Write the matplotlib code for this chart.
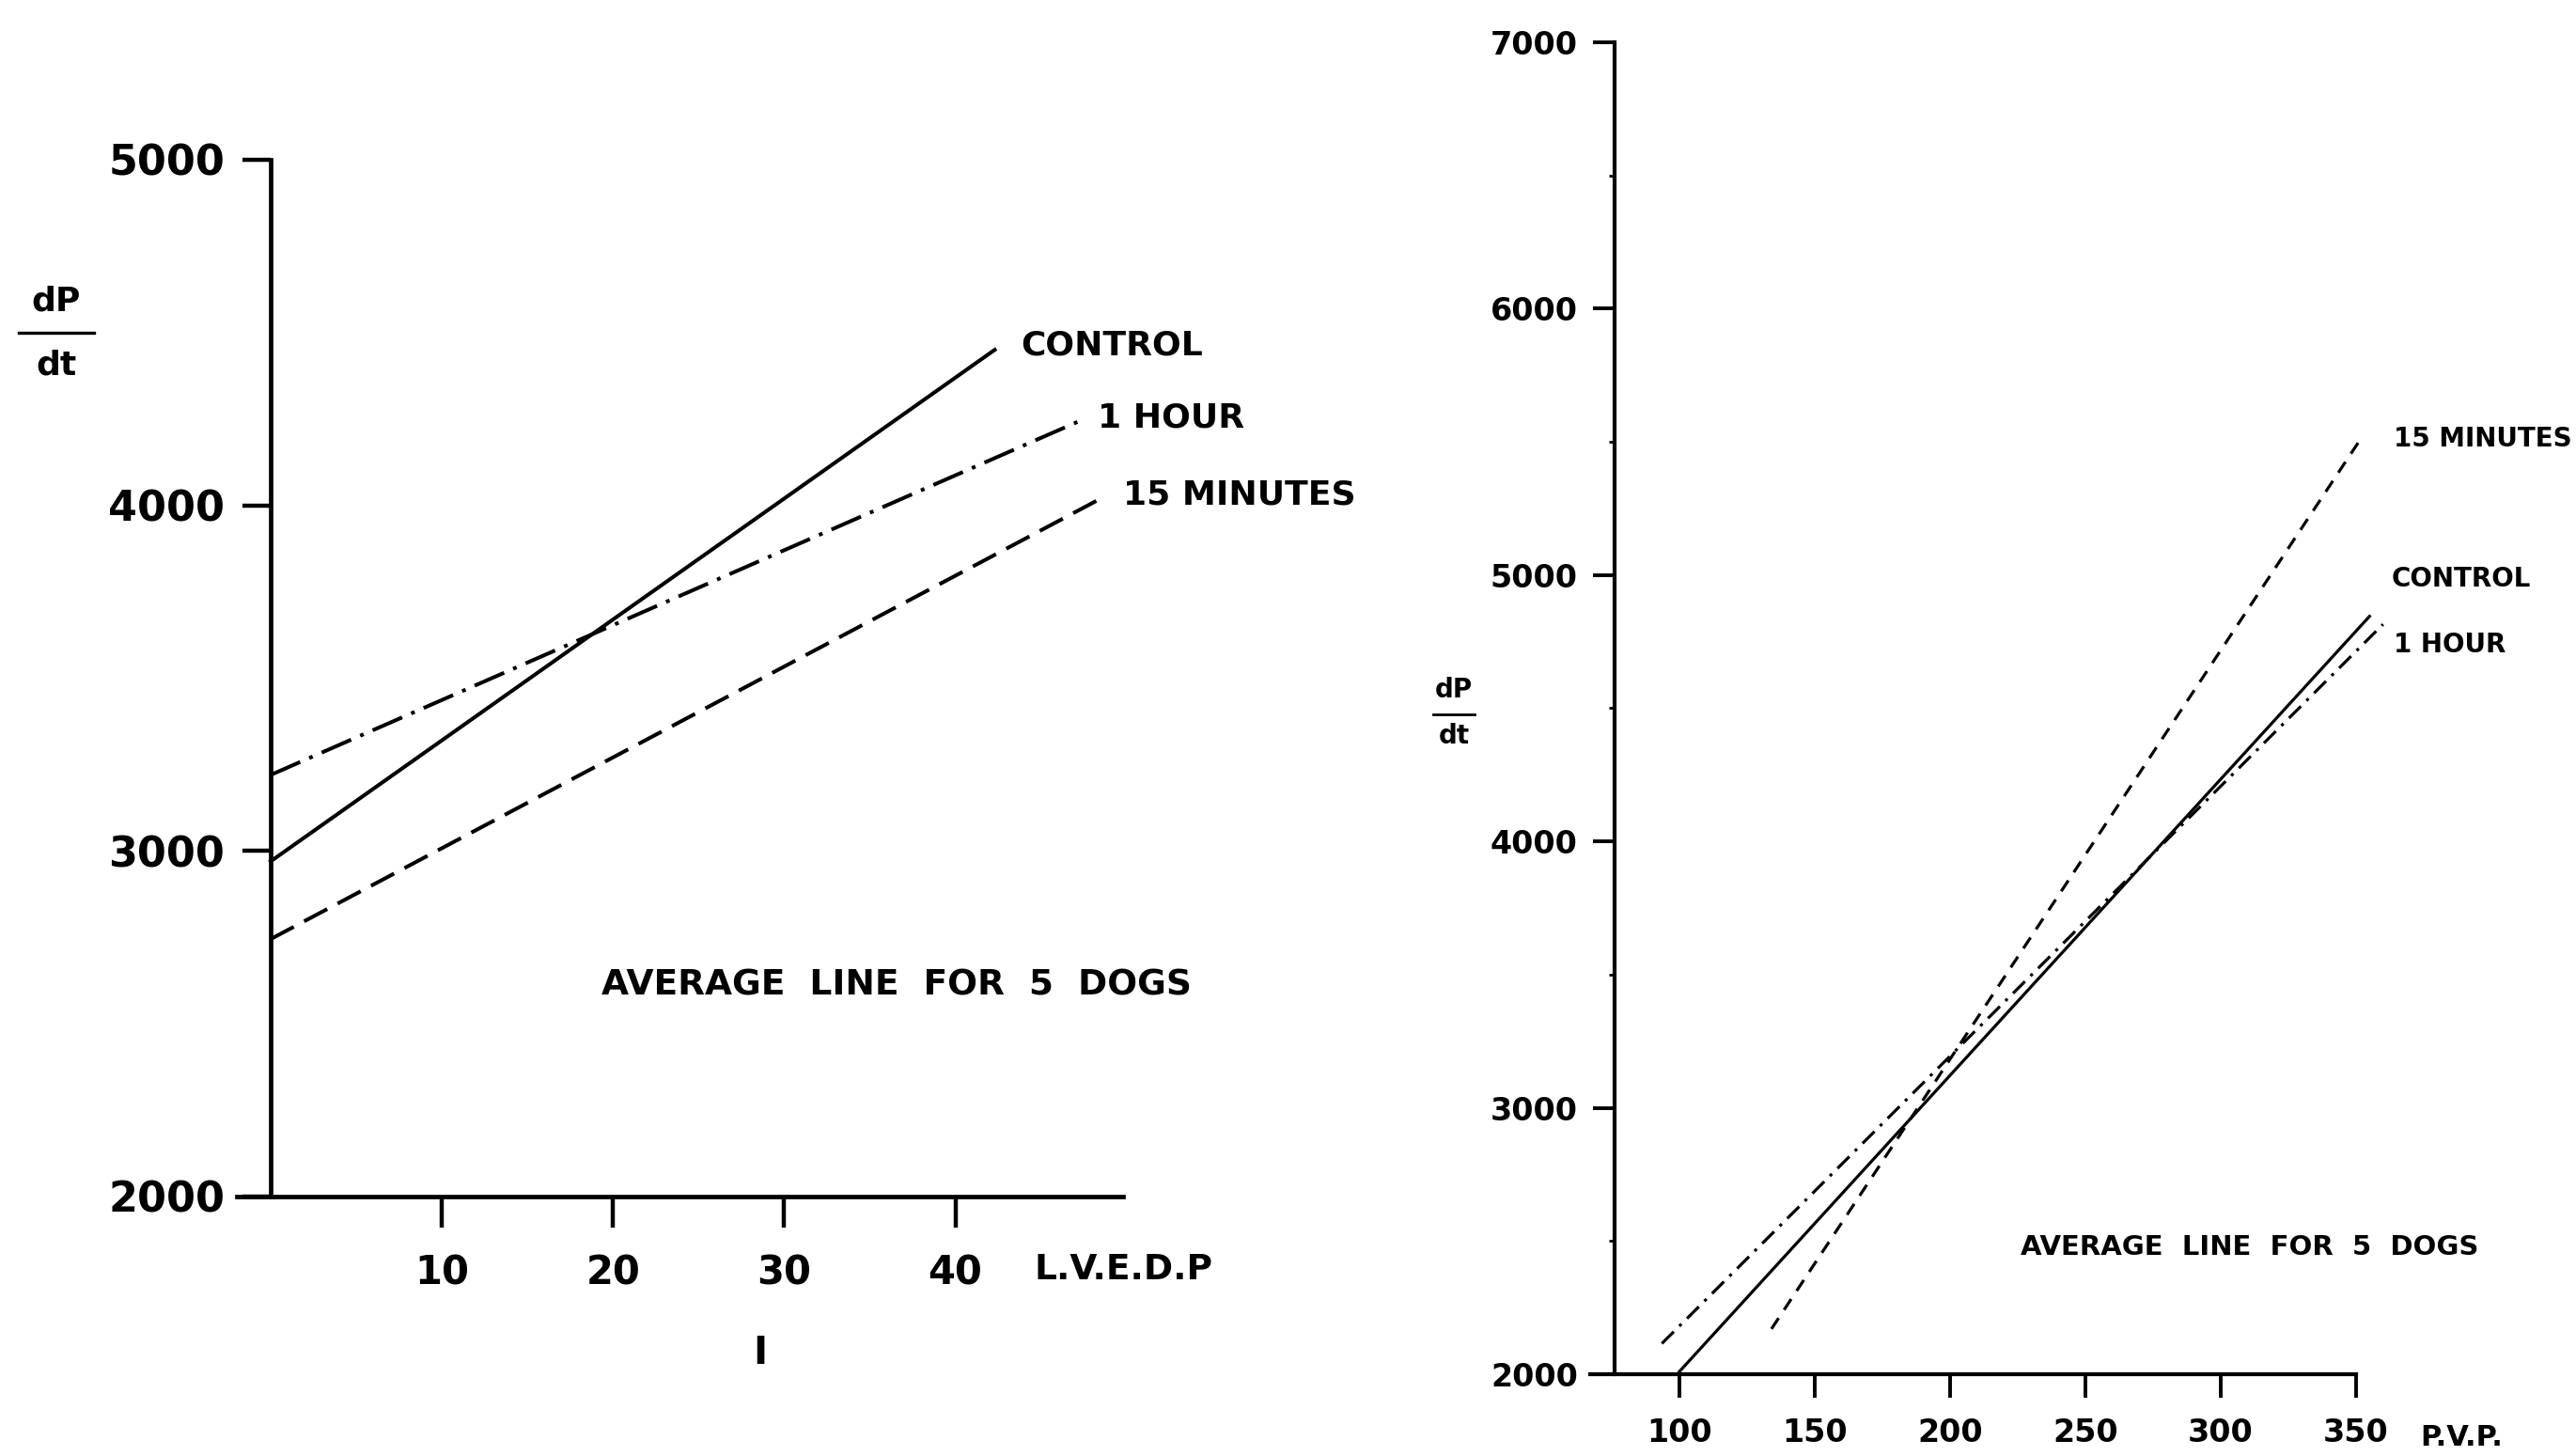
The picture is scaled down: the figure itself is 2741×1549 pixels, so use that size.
import matplotlib.pyplot as plt
from matplotlib.lines import Line2D

# left panel: dP/dt against L.V.E.D.P
lv_xticks = [10, 20, 30, 40]
lv_yticks = [2000, 3000, 4000, 5000]
lv_control_x = [0, 42.3]
lv_control_y = [2970, 4450]
lv_hour_x = [0, 47.3]
lv_hour_y = [3220, 4245]
lv_15min_x = [0, 48.7]
lv_15min_y = [2745, 4025]

# right panel: dP/dt against P.V.P.
pv_xticks = [100, 150, 200, 250, 300, 350]
pv_yticks = [2000, 3000, 4000, 5000, 6000, 7000]
pv_yminor = [2500, 3500, 4500, 5500, 6500]
pv_control_x = [100, 355]
pv_control_y = [2010, 4845]
pv_hour_x = [93.5, 360]
pv_hour_y = [2115, 4815]
pv_15min_x = [134, 352]
pv_15min_y = [2170, 5515]

plt.rcParams['font.weight'] = 'bold'

fig = plt.figure(figsize=(27.41, 15.49), dpi=100)

# ---------------- left ----------------
ax1 = fig.add_axes([0.0918, 0.1782, 0.3442, 0.7121])
ax1.set_xlim(-2, 49.8)
ax1.set_ylim(2000, 5000)
ax1.spines['top'].set_visible(False)
ax1.spines['right'].set_visible(False)
ax1.spines['left'].set_position(('data', 0))
for s in ['left', 'bottom']:
    ax1.spines[s].set_linewidth(3.4)
ax1.set_xticks(lv_xticks)
ax1.set_yticks(lv_yticks)
ax1.tick_params(axis='y', length=21.6, width=3.2, pad=13.7, labelsize=32)
ax1.tick_params(axis='x', length=23.8, width=3.2, pad=19.5, labelsize=30)

ax1.plot(lv_control_x, lv_control_y, color='black', lw=2.9, clip_on=False)
ax1.plot(lv_hour_x, lv_hour_y, color='black', lw=2.9, dashes=(8.5, 2.6, 1, 2.6), clip_on=False)
ax1.plot(lv_15min_x, lv_15min_y, color='black', lw=2.9, dashes=(6.9, 3.1), clip_on=False)

ax1.text(43.8, 4464, "CONTROL", fontsize=26, ha='left', va='center')
ax1.text(48.3, 4252, "1 HOUR", fontsize=26, ha='left', va='center')
ax1.text(49.8, 4029, "15 MINUTES", fontsize=26, ha='left', va='center')
ax1.text(19.3, 2610, "AVERAGE  LINE  FOR  5  DOGS", fontsize=27, ha='left', va='center')
ax1.text(49.8, -0.0707, "L.V.E.D.P", fontsize=27, ha='center', va='center',
         transform=ax1.get_xaxis_transform())
ax1.text(28.6, -0.151, "I", fontsize=29, ha='center', va='center',
         transform=ax1.get_xaxis_transform())

fig.text(0.0219, 0.7934, "dP", fontsize=26, ha='center', va='center')
fig.text(0.0219, 0.7489, "dt", fontsize=26, ha='center', va='center')
fig.add_artist(Line2D([0.0073, 0.0365], [0.7715, 0.7715], transform=fig.transFigure,
                      color='black', lw=2.4))

# ---------------- right ----------------
ax2 = fig.add_axes([0.6173, 0.0562, 0.2973, 0.9148])
ax2.set_xlim(67, 350)
ax2.set_ylim(2000, 7000)
ax2.spines['top'].set_visible(False)
ax2.spines['right'].set_visible(False)
ax2.spines['left'].set_position(('data', 76))
for s in ['left', 'bottom']:
    ax2.spines[s].set_linewidth(3.0)
ax2.set_xticks(pv_xticks)
ax2.set_yticks(pv_yticks)
ax2.set_yticks(pv_yminor, minor=True)
ax2.tick_params(axis='y', length=16.6, width=2.8, pad=11.5, labelsize=24)
ax2.tick_params(axis='y', which='minor', length=4, width=2)
ax2.tick_params(axis='x', length=18, width=2.8, pad=15.5, labelsize=24)

ax2.plot(pv_control_x, pv_control_y, color='black', lw=2.3, clip_on=False)
ax2.plot(pv_hour_x, pv_hour_y, color='black', lw=2.3, dashes=(5.6, 2.6, 1, 2.6), clip_on=False)
ax2.plot(pv_15min_x, pv_15min_y, color='black', lw=2.3, dashes=(4.3, 3.3), clip_on=False)

ax2.text(363.9, 5509, "15 MINUTES", fontsize=20, ha='left', va='center', clip_on=False)
ax2.text(363.2, 4986, "CONTROL", fontsize=20, ha='left', va='center', clip_on=False)
ax2.text(363.9, 4739, "1 HOUR", fontsize=20, ha='left', va='center', clip_on=False)
ax2.text(226, 2477, "AVERAGE  LINE  FOR  5  DOGS", fontsize=21, ha='left', va='center')
ax2.text(389, -0.048, "P.V.P.", fontsize=22, ha='center', va='center',
         transform=ax2.get_xaxis_transform())

fig.text(0.5644, 0.5261, "dP", fontsize=20, ha='center', va='center')
fig.text(0.5644, 0.4945, "dt", fontsize=20, ha='center', va='center')
fig.add_artist(Line2D([0.5565, 0.5723], [0.5094, 0.5094], transform=fig.transFigure,
                      color='black', lw=2.0))

fig.savefig('out.png', dpi=100)
